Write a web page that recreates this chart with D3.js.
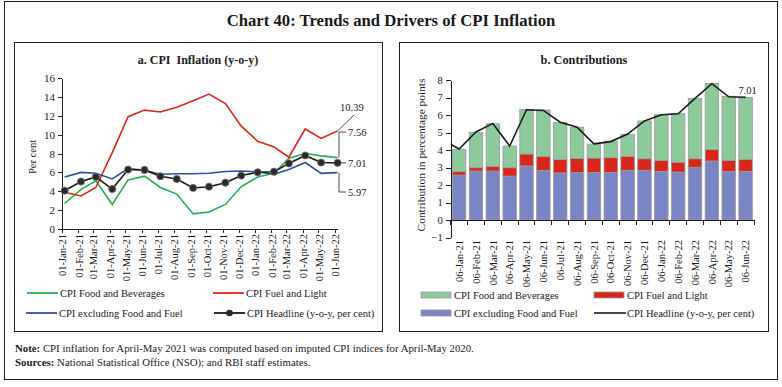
<!DOCTYPE html>
<meta charset="utf-8">
<style>
body { margin: 0; background: #fff; }
svg text { font-family: "Liberation Serif", serif; fill: #1a1a1a; }
.frame { fill: none; stroke: #222; stroke-width: 1px; }
.axis path, .axis line { stroke: #222; stroke-width: 1px; shape-rendering: crispEdges; }
.axis text { font-family: "Liberation Serif", serif; fill: #1a1a1a; }
</style>
<body>
<script src="https://d3js.org/d3.v7.min.js"></script>
<script>

// tick labels / categories
var datesA = ["01-Jan-21","01-Feb-21","01-Mar-21","01-Apr-21","01-May-21","01-Jun-21","01-Jul-21","01-Aug-21","01-Sep-21","01-Oct-21","01-Nov-21","01-Dec-21","01-Jan-22","01-Feb-22","01-Mar-22","01-Apr-22","01-May-22","01-Jun-22"];
var datesB = ["06-Jan-21","06-Feb-21","06-Mar-21","06-Apr-21","06-May-21","06-Jun-21","06-Jul-21","06-Aug-21","06-Sep-21","06-Oct-21","06-Nov-21","06-Dec-21","06-Jan-22","06-Feb-22","06-Mar-22","06-Apr-22","06-May-22","06-Jun-22"];

// panel a: y-o-y inflation, per cent
var foodBev  = [2.7, 4.2, 5.1, 2.6, 5.2, 5.6, 4.4, 3.7, 1.6, 1.8, 2.6, 4.5, 5.5, 5.9, 7.5, 8.0, 7.75, 7.56];
var fuelLight = [3.9, 3.5, 4.4, 8.1, 11.9, 12.6, 12.4, 12.9, 13.6, 14.3, 13.3, 10.9, 9.3, 8.7, 7.6, 10.6, 9.6, 10.39];
var exFoodFuel = [5.5, 6.0, 5.9, 5.3, 6.4, 6.2, 5.8, 5.85, 5.85, 5.9, 6.1, 6.15, 6.05, 5.8, 6.3, 7.05, 5.9, 5.97];
var headline = [4.06, 5.03, 5.52, 4.23, 6.30, 6.26, 5.59, 5.30, 4.35, 4.48, 4.91, 5.66, 6.01, 6.07, 6.95, 7.79, 7.04, 7.01];
var headlinePrev = 4.59; // Dec-20, only the stub at the left edge of panel b shows
var yTicksA = [0, 2, 4, 6, 8, 10, 12, 14, 16];

// panel b: contributions, percentage points
var contribCore = [2.57, 2.8, 2.8, 2.51, 3.09, 2.84, 2.69, 2.72, 2.72, 2.72, 2.84, 2.84, 2.78, 2.74, 3.01, 3.37, 2.78, 2.78];
var contribFuel = [0.19, 0.19, 0.27, 0.48, 0.68, 0.78, 0.76, 0.8, 0.82, 0.84, 0.8, 0.66, 0.63, 0.56, 0.49, 0.65, 0.63, 0.67];
var contribFood = [1.28, 2.02, 2.43, 1.24, 2.55, 2.67, 2.13, 1.78, 0.8, 0.95, 1.26, 2.16, 2.61, 2.8, 3.45, 3.79, 3.66, 3.56];
var yTicksB = [-1, 0, 1, 2, 3, 4, 5, 6, 7, 8];

var parse = d3.timeParse("%d-%b-%y");

var C = {
	food: "#22b14c", fuel: "#e2231a", core: "#2f4ea3", head: "#1a1a1a",
	barFood: "#8dca9b", barFuel: "#d9261c", barCore: "#7b84c4", barEdge: "#9a9a9a"
};

var svg = d3.select("body").append("svg")
	.attr("width", 782)
	.attr("height", 387);

// frames and titles
svg.append("rect").attr("class", "frame").attr("x", 4.5).attr("y", 1.5).attr("width", 773).attr("height", 378);
svg.append("rect").attr("class", "frame").attr("x", 14.5).attr("y", 42.5).attr("width", 368).attr("height", 289);
svg.append("rect").attr("class", "frame").attr("x", 399.5).attr("y", 42.5).attr("width", 369).attr("height", 289);

svg.append("text").attr("x", 391).attr("y", 26).attr("text-anchor", "middle")
	.style("font-size", "16.7px").style("font-weight", "bold")
	.text("Chart 40: Trends and Drivers of CPI Inflation");
svg.append("text").attr("x", 198).attr("y", 64).attr("text-anchor", "middle")
	.style("font-size", "12px").style("font-weight", "bold")
	.attr("xml:space", "preserve")
	.text("a. CPI  Inflation (y-o-y)");
svg.append("text").attr("x", 584).attr("y", 64).attr("text-anchor", "middle")
	.style("font-size", "12.3px").style("font-weight", "bold")
	.text("b. Contributions");

// notes
var note = svg.append("text").attr("x", 15).attr("y", 352).style("font-size", "10.8px");
note.append("tspan").style("font-weight", "bold").text("Note: ");
note.append("tspan").text("CPI inflation for April-May 2021 was computed based on imputed CPI indices for April-May 2020.");
var src = svg.append("text").attr("x", 15).attr("y", 366).style("font-size", "10.8px");
src.append("tspan").style("font-weight", "bold").text("Sources: ");
src.append("tspan").text("National Statistical Office (NSO); and RBI staff estimates.");

//
// ---- panel a ----
//
var xA = d3.scaleTime()
	.domain([parse(datesA[0]), parse(datesB[datesB.length - 1])])
	.range([62, 337.5]);
var yA = d3.scaleLinear().domain([0, 16]).range([229, 78]);

var gA = svg.append("g");

gA.append("g").attr("class", "axis")
	.attr("transform", "translate(62,0)")
	.call(d3.axisLeft(yA).tickValues(yTicksA).tickSize(4).tickSizeOuter(0).tickPadding(3))
	.selectAll("text").style("font-size", "11px");

var xAxisA = gA.append("g").attr("class", "axis")
	.attr("transform", "translate(0," + yA(0) + ")")
	.call(d3.axisBottom(xA).tickValues(datesA.map(parse)).tickSize(4).tickSizeOuter(0)
		.tickFormat(d3.timeFormat("%d-%b-%y")));
xAxisA.selectAll("text")
	.style("font-size", "10.5px")
	.attr("text-anchor", "end")
	.attr("transform", "rotate(-90)")
	.attr("x", -5).attr("y", 0).attr("dy", "0.35em");

gA.append("text").attr("transform", "translate(36,157) rotate(-90)")
	.attr("text-anchor", "middle").style("font-size", "10.5px").text("Per cent");

var lineA = function(vals) {
	return d3.line()
		.x(function(d, i) { return xA(parse(datesB[i])); })
		.y(function(d) { return yA(d); })(vals);
};

[[foodBev, C.food], [fuelLight, C.fuel], [exFoodFuel, C.core], [headline, C.head]].forEach(function(s) {
	gA.append("path").attr("d", lineA(s[0]))
		.attr("fill", "none").attr("stroke", s[1]).attr("stroke-width", 1.6);
});

gA.selectAll(".dot").data(headline).enter().append("circle")
	.attr("cx", function(d, i) { return xA(parse(datesB[i])); })
	.attr("cy", function(d) { return yA(d); })
	.attr("r", 3.6)
	.attr("fill", "#2a2a2a").attr("stroke", "#777").attr("stroke-width", 0.8);

// end-point labels
var last = datesB.length - 1, xl = xA(parse(datesB[last]));
var callout = function(path, label, tx, ty) {
	gA.append("path").attr("d", path).attr("fill", "none").attr("stroke", "#222").attr("stroke-width", 0.8);
	gA.append("text").attr("x", tx).attr("y", ty).attr("dy", "0.35em")
		.style("font-size", "10.5px").text(label);
};
callout("M" + xl + "," + yA(fuelLight[last]) + "L354,115", fuelLight[last].toFixed(2), 340, 107);
callout("M" + (xl + 1.5) + "," + yA(foodBev[last]) + "V132H346", foodBev[last].toFixed(2), 348, 132);
callout("M" + (xl + 1.5) + "," + yA(headline[last]) + "H346", headline[last].toFixed(2), 348, yA(headline[last]));
callout("M" + (xl + 1.5) + "," + yA(exFoodFuel[last]) + "V192H346", exFoodFuel[last].toFixed(2), 348, 192);

// legend a
var legA = [
	{ x: 27, y: 293, c: C.food, t: "CPI Food and Beverages" },
	{ x: 213, y: 293, c: C.fuel, t: "CPI Fuel and Light" },
	{ x: 26, y: 313, c: C.core, t: "CPI excluding Food and Fuel" },
	{ x: 214, y: 313, c: C.head, t: "CPI Headline (y-o-y, per cent)", dot: true }
];
legA.forEach(function(l) {
	gA.append("line").attr("x1", l.x).attr("x2", l.x + 31).attr("y1", l.y).attr("y2", l.y)
		.attr("stroke", l.c).attr("stroke-width", 1.8);
	if (l.dot) gA.append("circle").attr("cx", l.x + 15.5).attr("cy", l.y).attr("r", 3.3).attr("fill", "#2a2a2a");
	gA.append("text").attr("x", l.x + 33).attr("y", l.y).attr("dy", "0.35em")
		.style("font-size", "10.5px").text(l.t);
});

//
// ---- panel b ----
//
var xB = d3.scaleBand().domain(datesB).range([450.7, 754]).paddingInner(0.2).paddingOuter(0.1);
var yB = d3.scaleLinear().domain([-1, 8]).range([237.5, 80]);

var gB = svg.append("g");

var stacked = d3.stack().keys(["core", "fuel", "food"])(datesB.map(function(d, i) {
	return { date: d, core: contribCore[i], fuel: contribFuel[i], food: contribFood[i] };
}));
var fills = { core: C.barCore, fuel: C.barFuel, food: C.barFood };

gB.selectAll(".layer").data(stacked).enter().append("g")
	.attr("fill", function(d) { return fills[d.key]; })
	.selectAll("rect").data(function(d) { return d; }).enter().append("rect")
		.attr("x", function(d) { return xB(d.data.date); })
		.attr("width", xB.bandwidth())
		.attr("y", function(d) { return yB(d[1]); })
		.attr("height", function(d) { return yB(d[0]) - yB(d[1]); })
		.attr("stroke", C.barEdge).attr("stroke-width", 0.8);

// y axis
gB.append("g").attr("class", "axis")
	.attr("transform", "translate(450.7,0)")
	.call(d3.axisLeft(yB).tickValues(yTicksB).tickSize(5).tickSizeOuter(0).tickPadding(3))
	.selectAll("text").style("font-size", "10.5px");

// x axis on zero line, ticks at band edges
var step = xB.step();
var x0 = 450.7;
gB.append("line").attr("x1", x0).attr("x2", 754).attr("y1", yB(0)).attr("y2", yB(0))
	.attr("stroke", "#222").attr("shape-rendering", "crispEdges");
gB.selectAll(".tk").data(d3.range(datesB.length + 1)).enter().append("line")
	.attr("x1", function(i) { return x0 + i * step; }).attr("x2", function(i) { return x0 + i * step; })
	.attr("y1", yB(0)).attr("y2", yB(0) + 5)
	.attr("stroke", "#222").attr("shape-rendering", "crispEdges");
gB.selectAll(".xl").data(datesB).enter().append("text")
	.attr("transform", function(d) { return "translate(" + (xB(d) + xB.bandwidth() / 2) + ",240) rotate(-90)"; })
	.attr("text-anchor", "end").attr("dy", "0.35em")
	.style("font-size", "10.5px")
	.text(function(d) { return d; });

gB.append("text").attr("transform", "translate(421,155) rotate(-90)")
	.attr("text-anchor", "middle").attr("dy", "0.35em").style("font-size", "11.4px")
	.text("Contribution in percentage points");

// headline line (clipped at the axis)
svg.append("clipPath").attr("id", "clipB").append("rect")
	.attr("x", x0).attr("y", 70).attr("width", 754 - x0).attr("height", 170);
var lineB = d3.line()
	.x(function(d) { return d[0]; })
	.y(function(d) { return yB(d[1]); });
var pts = [[xB(datesB[0]) + xB.bandwidth() / 2 - step, headlinePrev]].concat(
	headline.map(function(v, i) { return [xB(datesB[i]) + xB.bandwidth() / 2, v]; }));
gB.append("path").attr("d", lineB(pts)).attr("clip-path", "url(#clipB)")
	.attr("fill", "none").attr("stroke", C.head).attr("stroke-width", 1.6);

gB.append("text").attr("x", xB(datesB[last]) + xB.bandwidth() / 2 + 2).attr("y", 90)
	.attr("text-anchor", "middle").attr("dy", "0.35em").style("font-size", "10.5px")
	.text(headline[last].toFixed(2));

// legend b
var legB = [
	{ x: 421, y: 295, c: C.barFood, t: "CPI Food and Beverages" },
	{ x: 594, y: 295, c: C.barFuel, t: "CPI Fuel and Light" },
	{ x: 421, y: 313, c: C.barCore, t: "CPI excluding Food and Fuel" },
	{ x: 594, y: 313, c: C.head, t: "CPI Headline (y-o-y, per cent)", line: true }
];
legB.forEach(function(l) {
	if (l.line) {
		gB.append("line").attr("x1", l.x).attr("x2", l.x + 32).attr("y1", l.y).attr("y2", l.y)
			.attr("stroke", l.c).attr("stroke-width", 1.6);
	} else {
		gB.append("rect").attr("x", l.x).attr("y", l.y - 3).attr("width", 30).attr("height", 6)
			.attr("fill", l.c).attr("stroke", C.barEdge).attr("stroke-width", 0.8);
	}
	gB.append("text").attr("x", l.x + 33).attr("y", l.y).attr("dy", "0.35em")
		.style("font-size", "10.5px").text(l.t);
});

</script>
</body>
